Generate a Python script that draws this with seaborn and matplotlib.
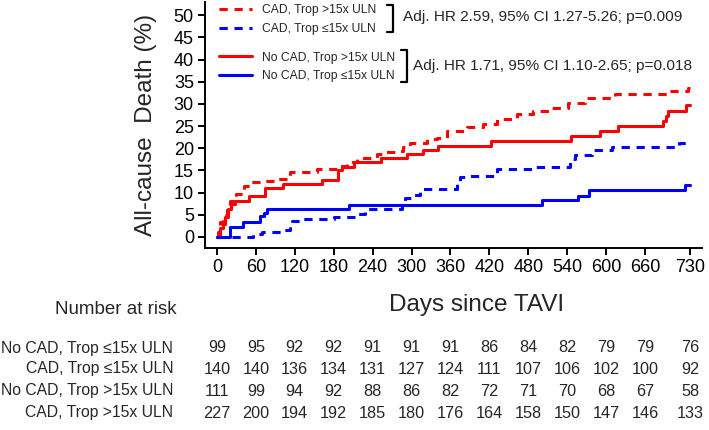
import numpy as np
import pandas as pd
import matplotlib
matplotlib.use('Agg')
import matplotlib.pyplot as plt
import matplotlib.transforms as mtransforms
from matplotlib.lines import Line2D
from matplotlib import font_manager
import seaborn as sns

## Kaplan-Meier style step data, % all-cause death

days_cad_hi = [0, 2, 5, 10, 15, 20, 30, 41, 51, 71, 92, 113, 154, 185, 200, 216, 246, 257, 277,
               287, 298, 324, 339, 354, 385, 411, 432, 462, 488, 516, 542, 568, 614, 697, 727, 730]
death_cad_hi = [0, 1.1, 3.4, 5.0, 6.7, 8.2, 9.7, 11.6, 12.3, 12.7, 13.1, 14.6, 15.3, 16.1, 17.0, 17.9,
                18.7, 19.1, 19.4, 20.2, 21.3, 22.0, 22.4, 23.9, 24.7, 25.4, 26.5, 27.7, 28.4, 29.1,
                30.3, 31.4, 32.2, 32.9, 33.6, 33.6]

days_cad_lo = [0, 55, 70, 100, 112, 116, 130, 180, 213, 228, 285, 290, 300, 313, 370, 375, 385,
               432, 490, 545, 552, 579, 609, 712, 730]
death_cad_lo = [0, 0.6, 1.0, 1.5, 2.5, 3.7, 4.0, 4.5, 5.2, 6.4, 8.0, 8.7, 9.4, 10.8, 12.0, 13.5, 13.8,
                15.3, 15.8, 17.6, 18.5, 19.6, 20.3, 21.2, 21.2]

days_nocad_hi = [0, 5, 9, 13, 17, 21, 28, 49, 74, 102, 162, 187, 193, 212, 253, 293, 318, 341, 422,
                 546, 591, 618, 688, 692, 695, 724, 730]
death_nocad_hi = [0, 1.9, 3.0, 4.5, 6.4, 7.5, 8.2, 9.2, 11.1, 12.0, 12.9, 15.0, 15.7, 16.8, 17.9,
                  18.7, 19.6, 20.6, 21.7, 22.8, 24.0, 25.0, 26.2, 27.3, 28.4, 29.8, 29.8]

days_nocad_lo = [0, 20, 40, 67, 72, 77, 203, 502, 557, 574, 722, 730]
death_nocad_lo = [0, 2.2, 3.3, 4.7, 5.5, 6.4, 7.3, 8.4, 9.3, 10.6, 11.8, 11.8]

## Number at risk table

risk_days = [0, 60, 120, 180, 240, 300, 360, 420, 480, 540, 600, 660, 730]
risk_labels = ['No CAD, Trop \u226415x ULN', 'CAD, Trop \u226415x ULN',
               'No CAD, Trop >15x ULN', 'CAD, Trop >15x ULN']
risk_nocad_lo = [99, 95, 92, 92, 91, 91, 91, 86, 84, 82, 79, 79, 76]
risk_cad_lo = [140, 140, 136, 134, 131, 127, 124, 111, 107, 106, 102, 100, 92]
risk_nocad_hi = [111, 99, 94, 92, 88, 86, 82, 72, 71, 70, 68, 67, 58]
risk_cad_hi = [227, 200, 194, 192, 185, 180, 176, 164, 158, 150, 147, 146, 133]

hr_cad = 'Adj. HR 2.59, 95% CI 1.27-5.26; p=0.009'
hr_nocad = 'Adj. HR 1.71, 95% CI 1.10-2.65; p=0.018'

## Fonts: condensed look of the original if a narrow face exists

sns.set_theme(style='ticks')
names = {f.name for f in font_manager.fontManager.ttflist}
if 'Liberation Sans Narrow' in names:
    narrow = 'Liberation Sans Narrow'
    fs = dict(leg=10.2, hr=13.5, risk_title=15.8, risk_lab=13.6, risk_num=13.6)
else:
    narrow = 'Liberation Sans'
    fs = dict(leg=8.7, hr=11.1, risk_title=13.5, risk_lab=11.3, risk_num=11.7)
plt.rcParams['font.family'] = ['Liberation Sans', 'DejaVu Sans']
fam = [narrow, 'DejaVu Sans']

RED = '#ff0000'
BLUE = '#0000ff'
DASH = (2.7, 2.2)
W, H = 709, 430

fig = plt.figure(figsize=(W / 100, H / 100), dpi=100)
ax = fig.add_axes([205 / W, 1 - 248 / H, 497 / W, 246 / H])

series = [
    (days_cad_hi, death_cad_hi, RED, DASH),
    (days_cad_lo, death_cad_lo, BLUE, DASH),
    (days_nocad_hi, death_nocad_hi, RED, None),
    (days_nocad_lo, death_nocad_lo, BLUE, None),
]
for d, v, col, dash in series:
    df = pd.DataFrame({'day': d, 'death': v})
    sns.lineplot(data=df, x='day', y='death', ax=ax, color=col, lw=2.2,
                 drawstyle='steps-post', estimator=None, sort=False)
    if dash is not None:
        ax.lines[-1].set_dashes(DASH)

ax.set_xlim(-18.5, 748)
ax.set_ylim(-2.5, 53)
ax.set_xticks(risk_days)
ax.set_yticks(np.arange(0, 51, 5))
ax.tick_params(labelsize=13, width=1.4, length=5, pad=3, color='black', labelcolor='black')
for s in ['left', 'bottom']:
    ax.spines[s].set_linewidth(1.4)
    ax.spines[s].set_color('black')
sns.despine(ax=ax)

ax.set_ylabel('All-cause  Death (%)', fontsize=17.5, va='center')
ax.yaxis.set_label_coords(-0.119, 0.5)
ax.set_xlabel('Days since TAVI', fontsize=17.5, va='center')
ax.xaxis.set_label_coords(0.547, -0.23)

## Legends (two groups, each with a bracket and HR text)

fs_px = fs['leg'] * 100 / 72
leg_kw = dict(frameon=False, borderpad=0, borderaxespad=0,
              handlelength=33 / fs_px, handletextpad=10 / fs_px, labelspacing=0.55,
              loc='center left', bbox_transform=fig.transFigure,
              prop={'family': fam, 'size': fs['leg']})
h1 = [Line2D([], [], color=RED, lw=2.2, dashes=DASH), Line2D([], [], color=BLUE, lw=2.2, dashes=DASH)]
leg1 = ax.legend(h1, ['CAD, Trop >15x ULN', 'CAD, Trop \u226415x ULN'],
                 bbox_to_anchor=(219 / W, 1 - 19.5 / H), **leg_kw)
ax.add_artist(leg1)
h2 = [Line2D([], [], color=RED, lw=2.2), Line2D([], [], color=BLUE, lw=2.2)]
ax.legend(h2, ['No CAD, Trop >15x ULN', 'No CAD, Trop \u226415x ULN'],
          bbox_to_anchor=(219 / W, 1 - 67 / H), **leg_kw)


def bracket(x, y0, y1):
    xs = [(x - 6) / W, x / W, x / W, (x - 6) / W]
    ys = [1 - y0 / H, 1 - y0 / H, 1 - y1 / H, 1 - y1 / H]
    fig.add_artist(Line2D(xs, ys, color='black', lw=1.6, transform=fig.transFigure))


bracket(393, 5, 32)
bracket(407, 50, 82)
fig.text(403 / W, 1 - 17 / H, hr_cad, fontsize=fs['hr'], family=fam, va='center', ha='left')
fig.text(413 / W, 1 - 66 / H, hr_nocad, fontsize=fs['hr'], family=fam, va='center', ha='left')

## Number at risk table

fig.text(116 / W, 1 - 310 / H, 'Number at risk', fontsize=fs['risk_title'], family=fam,
         ha='center', va='center')
row_y = [348, 369, 391, 413]
rows = [risk_nocad_lo, risk_cad_lo, risk_nocad_hi, risk_cad_hi]
trans = mtransforms.blended_transform_factory(ax.transData, fig.transFigure)
for lab, vals, y in zip(risk_labels, rows, row_y):
    fig.text(173 / W, 1 - y / H, lab, fontsize=fs['risk_lab'], family=fam, ha='right', va='center')
    for d, n in zip(risk_days, vals):
        ax.text(d, 1 - y / H, str(n), transform=trans, fontsize=fs['risk_num'], family=fam,
                ha='center', va='center', clip_on=False)

fig.savefig('out.png', dpi=100)
